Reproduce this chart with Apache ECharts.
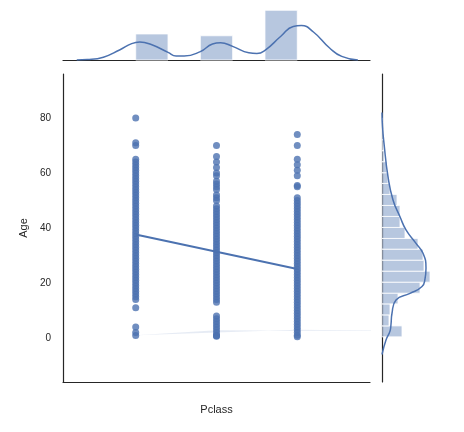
<!DOCTYPE html>
<html>
<head>
    <meta charset="utf-8">
    <title>Pclass vs Age</title>
    <script src="https://cdn.jsdelivr.net/npm/echarts@6/dist/echarts.min.js"></script>
    <style>
        html, body { margin: 0; background: #fff; }
        #chart { width: 464px; height: 432px; }
    </style>
</head>
<body>
    <div id="chart"></div>
    <script>
        // ages, one list per class
        const ages1 = [0.92, 2, 4, 11, 14, 15, 16, 17, 18, 19, 20, 21, 22, 23, 24, 25, 26, 27, 28, 29, 30, 31, 32, 33, 34, 35, 36, 37, 38, 39, 40, 41, 42, 43, 44, 45, 46, 47, 48, 49, 50, 51, 52, 53, 54, 55, 56, 57, 58, 59, 60, 61, 62, 63, 64, 65, 70, 71, 80];
        const ages2 = [0.67, 0.83, 1, 2, 3, 4, 5, 6, 7, 8, 13, 14, 15, 16, 17, 18, 19, 20, 21, 22, 23, 24, 25, 26, 27, 28, 29, 30, 31, 32, 33, 34, 35, 36, 37, 38, 39, 40, 41, 42, 43, 44, 45, 46, 47, 48, 50, 51, 52, 54, 55, 56, 57, 59, 60, 62, 64, 66, 70];
        const ages3 = [0.42, 1, 2, 3, 4, 5, 6, 7, 8, 9, 10, 11, 12, 13, 14, 15, 16, 17, 18, 19, 20, 21, 22, 23, 24, 25, 26, 27, 28, 29, 30, 31, 32, 33, 34, 35, 36, 37, 38, 39, 40, 41, 42, 43, 44, 45, 46, 47, 48, 49, 50, 51, 55, 55.5, 59, 61, 63, 65, 70, 74];

        // regression fit at class 1 and 3
        const fitLine = [[1, 37.6], [3, 25.1]];
        const fitLow = [[1, 36.2], [3, 24.0]];
        const fitHigh = [[1, 39.0], [3, 26.2]];

        // top marginal: Pclass histogram [from, to, density] and kde
        const classBins = [[1.0, 1.4, 0.651], [1.8, 2.2, 0.606], [2.6, 3.0, 1.243]];
        const classKde = [[0.27, 0], [0.4, 0.01], [0.6, 0.07], [0.8, 0.25], [0.95, 0.41], [1.05, 0.45], [1.2, 0.38], [1.4, 0.19], [1.5, 0.1], [1.6, 0.1], [1.8, 0.21], [1.95, 0.4], [2.05, 0.43], [2.2, 0.34], [2.4, 0.18], [2.5, 0.16], [2.6, 0.24], [2.8, 0.6], [2.95, 0.84], [3.05, 0.86], [3.2, 0.7], [3.4, 0.3], [3.55, 0.09], [3.75, 0]];

        // right marginal: Age histogram [from, to, width] and kde [width, age]
        const ageEdges = [0.42, 4.4, 8.4, 12.4, 16.3, 20.3, 24.3, 28.3, 32.3, 36.2, 40.2, 44.2, 48.2, 52.2, 56.2, 60.1, 64.1, 68.1, 72.1, 76.0, 80];
        const ageHeights = [20, 7, 8, 16, 38, 48, 42, 41, 36, 23, 18, 18, 15, 8, 6, 5, 2, 1, 1, 0.5];
        const ageKde = [[0, -6], [4, -0.7], [8, 2.5], [9, 5], [10, 9], [14, 13.8], [28, 16.2], [40, 18.7], [43, 21.5], [44, 25.5], [41, 30.8], [34, 34.4], [24, 39.3], [18, 44.1], [11, 50.2], [6, 58.7], [2, 70.8], [0.5, 76.8], [0, 82]];

        const blue = '#4c72b0';
        const barFill = 'rgba(76,114,176,0.4)';
        const txt = '#262626';
        const font = 'Liberation Sans, Arial, sans-serif';

        const chart = echarts.init(document.getElementById('chart'));

        const ageBins = ageHeights.map((h, i) => [ageEdges[i], ageEdges[i + 1], h]);
        const toPts = (arr, cls) => arr.map(a => [cls, a]);

        const option = {
            animation: false,
            textStyle: { fontFamily: font },
            grid: [
                { left: 63, top: 74, width: 307, height: 308 },
                { left: 63, top: 8, width: 307, height: 52 },
                { left: 382, top: 74, width: 70, height: 308 }
            ],
            xAxis: [
                {
                    gridIndex: 0, type: 'value', min: 0.1, max: 3.9, interval: 0.5,
                    name: 'Pclass', nameLocation: 'middle', nameGap: 22,
                    nameTextStyle: { color: txt, fontSize: 11 },
                    axisLine: { show: true, onZero: false, lineStyle: { color: txt, width: 1.2 } },
                    axisTick: { show: false },
                    axisLabel: {
                        color: txt, fontSize: 10, margin: 10,
                        formatter: v => (v * 10 % 5 === 0 && v >= 0.5 && v <= 3.5) ? v.toFixed(1) : ''
                    },
                    splitLine: { show: false }
                },
                {
                    gridIndex: 1, type: 'value', min: 0.1, max: 3.9,
                    axisLine: { show: true, onZero: false, lineStyle: { color: txt, width: 1.2 } },
                    axisTick: { show: false }, axisLabel: { show: false }, splitLine: { show: false }
                },
                {
                    gridIndex: 2, type: 'value', min: 0, max: 70,
                    axisLine: { show: false }, axisTick: { show: false },
                    axisLabel: { show: false }, splitLine: { show: false }
                }
            ],
            yAxis: [
                {
                    gridIndex: 0, type: 'value', min: -16, max: 96,
                    name: 'Age', nameLocation: 'middle', nameGap: 30,
                    nameTextStyle: { color: txt, fontSize: 11 },
                    axisLine: { show: true, onZero: false, lineStyle: { color: txt, width: 1.2 } },
                    axisTick: { show: false },
                    axisLabel: {
                        color: txt, fontSize: 10, margin: 12,
                        customValues: [0, 20, 40, 60, 80]
                    },
                    splitLine: { show: false }
                },
                {
                    gridIndex: 1, type: 'value', min: 0, max: 1.3,
                    axisLine: { show: false }, axisTick: { show: false },
                    axisLabel: { show: false }, splitLine: { show: false }
                },
                {
                    gridIndex: 2, type: 'value', min: -16, max: 96,
                    axisLine: { show: true, onZero: false, lineStyle: { color: txt, width: 1.2 } },
                    axisTick: { show: false }, axisLabel: { show: false }, splitLine: { show: false }
                }
            ],
            series: [
                {
                    type: 'scatter', xAxisIndex: 0, yAxisIndex: 0,
                    data: [...toPts(ages1, 1), ...toPts(ages2, 2), ...toPts(ages3, 3)],
                    symbolSize: 7,
                    itemStyle: { color: blue, opacity: 0.8 }
                },
                {
                    type: 'line', xAxisIndex: 0, yAxisIndex: 0, data: fitLow,
                    symbol: 'none', lineStyle: { opacity: 0 }, stack: 'ci'
                },
                {
                    type: 'line', xAxisIndex: 0, yAxisIndex: 0,
                    data: fitHigh.map((p, i) => [p[0], p[1] - fitLow[i][1]]),
                    symbol: 'none', lineStyle: { opacity: 0 }, stack: 'ci',
                    areaStyle: { color: 'rgba(76,114,176,0.2)' }
                },
                {
                    type: 'line', xAxisIndex: 0, yAxisIndex: 0, data: fitLine,
                    symbol: 'none', lineStyle: { color: blue, width: 2 }, z: 5
                },
                {
                    type: 'custom', xAxisIndex: 1, yAxisIndex: 1, data: classBins,
                    renderItem: (params, api) => {
                        const a = api.coord([api.value(0), api.value(2)]);
                        const b = api.coord([api.value(1), 0]);
                        return { type: 'rect', shape: { x: a[0], y: a[1], width: b[0] - a[0], height: b[1] - a[1] },
                                 style: { fill: barFill, stroke: '#fff', lineWidth: 0.8 } };
                    }
                },
                {
                    type: 'line', xAxisIndex: 1, yAxisIndex: 1, data: classKde, smooth: true,
                    symbol: 'none', lineStyle: { color: blue, width: 1.5 }
                },
                {
                    type: 'custom', xAxisIndex: 2, yAxisIndex: 2, data: ageBins,
                    encode: { x: 2, y: [0, 1] },
                    renderItem: (params, api) => {
                        const a = api.coord([0, api.value(1)]);
                        const b = api.coord([api.value(2), api.value(0)]);
                        return { type: 'rect', shape: { x: a[0], y: a[1], width: b[0] - a[0], height: b[1] - a[1] },
                                 style: { fill: barFill, stroke: '#fff', lineWidth: 0.8 } };
                    }
                },
                {
                    type: 'line', xAxisIndex: 2, yAxisIndex: 2, data: ageKde, smooth: true,
                    symbol: 'none', lineStyle: { color: blue, width: 1.5 }
                }
            ]
        };

        chart.setOption(option);
    </script>
</body>
</html>
